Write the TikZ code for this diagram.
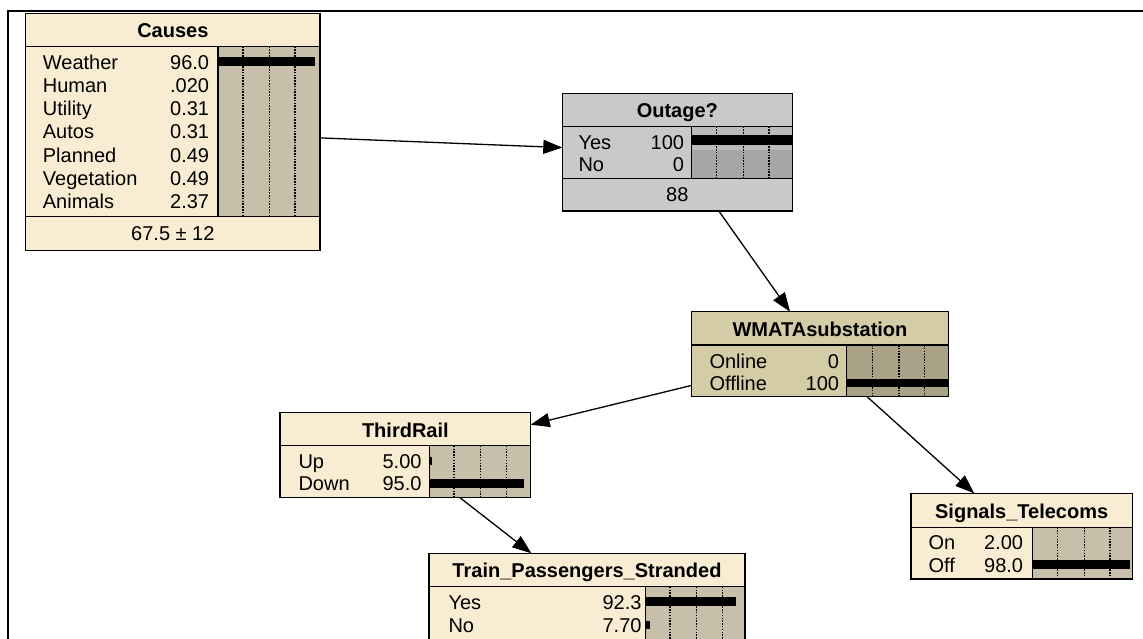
\documentclass[tikz,border=0pt]{standalone}
\usepackage{fontspec}
\setmainfont{Liberation Sans}
\usetikzlibrary{arrows.meta}
\definecolor{cream}{RGB}{248,237,210}
\definecolor{creambar}{RGB}{199,191,169}
\definecolor{khaki}{RGB}{212,204,166}
\definecolor{khakibar}{RGB}{170,162,134}
\definecolor{gry}{RGB}{201,201,201}
\definecolor{grybar}{RGB}{166,166,166}
\definecolor{grybarhi}{RGB}{186,186,186}
\tikzset{
 bn/.style={rectangle, inner sep=0, outer sep=0, draw=none},
 bnborder/.style={line width=1.5pt},
 lbl/.style={anchor=base west, inner sep=0, font=\fontsize{20}{21}\selectfont},
 val/.style={anchor=base east, inner sep=0, font=\fontsize{20}{21}\selectfont},
 ttl/.style={anchor=base, inner sep=0, font=\fontsize{20}{21}\selectfont\bfseries},
 mean/.style={anchor=base, inner sep=0, font=\fontsize{20}{21}\selectfont},
 sepline/.style={line width=1.3pt},
 gridline/.style={line width=1.1pt, dash pattern=on 1.5pt off 1.3pt},
 barfill/.style={fill=black},
 edge/.style={line width=1.3pt, -{Triangle[length=19pt,width=14pt]}},
 frameline/.style={line width=2pt},
}
\begin{document}
\begin{tikzpicture}[x=1pt,y=-1pt]
\useasboundingbox (0,0) rectangle (1143,639);
\fill[white] (0,0) rectangle (1143,639);
\clip (0,0) rectangle (1143,639);

% frame
\coordinate (frbl) at (8,700);
\coordinate (frtl) at (8,11);
\coordinate (frtr) at (1200,11);
\draw[frameline] (frbl) -- (frtl) -- (frtr);

% ---------------- Causes
\node[bn, fill=cream, minimum width=294.3pt, minimum height=237.4pt] (causes) at (172.85,132) {};
\fill[creambar] (218,46.7) rectangle (320,216.7);
\foreach \gx in {243,269.5,295} \draw[gridline] (\gx,46.7) -- (\gx,216.7);
\fill[barfill] (218,57) rectangle (315,66);
\draw[sepline] (25.7,46.7) -- (320,46.7);
\draw[sepline] (25.7,216.7) -- (320,216.7);
\draw[sepline] (218,46.7) -- (218,216.7);
\draw[bnborder] (causes.north west) rectangle (causes.south east);
\node[ttl] (causesT) at (172.85,37.8) {Causes};
\node[lbl] (cl1) at (42.7,69.3) {Weather};    \node[val] (cv1) at (209.3,69.3) {96.0};
\node[lbl] (cl2) at (42.7,92.5) {Human};      \node[val] (cv2) at (209.3,92.5) {.020};
\node[lbl] (cl3) at (42.7,115.7) {Utility};   \node[val] (cv3) at (209.3,115.7) {0.31};
\node[lbl] (cl4) at (42.7,138.9) {Autos};     \node[val] (cv4) at (209.3,138.9) {0.31};
\node[lbl] (cl5) at (42.7,162.1) {Planned};   \node[val] (cv5) at (209.3,162.1) {0.49};
\node[lbl] (cl6) at (42.7,185.3) {Vegetation};\node[val] (cv6) at (209.3,185.3) {0.49};
\node[lbl] (cl7) at (42.7,208.5) {Animals};   \node[val] (cv7) at (209.3,208.5) {2.37};
\node[mean] (cm) at (172.85,240.7) {67.5 ± 12};

% ---------------- Outage?
\node[bn, fill=gry, minimum width=230pt, minimum height=117.7pt] (outage) at (677.3,152.15) {};
\fill[grybarhi] (691.7,126.7) rectangle (792.3,150);
\fill[grybar] (691.7,150) rectangle (792.3,178.3);
\foreach \gx in {716.7,743.3,769} \draw[gridline] (\gx,126.7) -- (\gx,178.3);
\fill[barfill] (691.7,135) rectangle (792.3,145);
\draw[sepline] (562.3,126.7) -- (792.3,126.7);
\draw[sepline] (562.3,178.3) -- (792.3,178.3);
\draw[sepline] (691.7,126.7) -- (691.7,178.3);
\draw[bnborder] (outage.north west) rectangle (outage.south east);
\node[ttl] (outageT) at (677.3,117.8) {Outage?};
\node[lbl] (ol1) at (578.3,149.3) {Yes}; \node[val] (ov1) at (684.3,149.3) {100};
\node[lbl] (ol2) at (578.3,172) {No};    \node[val] (ov2) at (684.3,172) {0};
\node[mean] (om) at (677.3,202) {88};

% ---------------- WMATAsubstation
\node[bn, fill=khaki, minimum width=256.6pt, minimum height=85pt] (wmata) at (820,354.2) {};
\fill[khakibar] (846.7,345) rectangle (948.3,396.7);
\foreach \gx in {872.3,899,924.3} \draw[gridline] (\gx,345) -- (\gx,396.7);
\fill[barfill] (846.7,378.7) rectangle (948.3,387.3);
\draw[sepline] (691.7,345) -- (948.3,345);
\draw[sepline] (846.7,345) -- (846.7,396.7);
\draw[bnborder] (wmata.north west) rectangle (wmata.south east);
\node[ttl] (wmataT) at (820,336) {WMATAsubstation};
\node[lbl] (wl1) at (709.3,368) {Online};    \node[val] (wv1) at (839.3,368) {0};
\node[lbl] (wl2) at (709.3,390.3) {Offline}; \node[val] (wv2) at (839.3,390.3) {100};

% ---------------- ThirdRail
\node[bn, fill=cream, minimum width=250.7pt, minimum height=85pt] (third) at (405.35,455.2) {};
\fill[creambar] (429.3,445.7) rectangle (530.7,497.7);
\foreach \gx in {454,480.7,506.7} \draw[gridline] (\gx,445.7) -- (\gx,497.7);
\fill[barfill] (429.3,479) rectangle (524,487.7);
\fill[barfill] (429.3,457) rectangle (431.8,465);
\draw[sepline] (280,445.7) -- (530.7,445.7);
\draw[sepline] (429.3,445.7) -- (429.3,497.7);
\draw[bnborder] (third.north west) rectangle (third.south east);
\node[ttl] (thirdT) at (405.35,437) {ThirdRail};
\node[lbl] (tl1) at (298.3,468.7) {Up};   \node[val] (tv1) at (421.7,468.7) {5.00};
\node[lbl] (tl2) at (298.3,490.3) {Down}; \node[val] (tv2) at (421.7,490.3) {95.0};

% ---------------- Signals_Telecoms
\node[bn, fill=cream, minimum width=221.3pt, minimum height=85.7pt] (signals) at (1021.65,536.15) {};
\fill[creambar] (1032.3,527.3) rectangle (1132.3,579);
\foreach \gx in {1057.7,1084.3,1110} \draw[gridline] (\gx,527.3) -- (\gx,579);
\fill[barfill] (1032.3,560) rectangle (1130,569);
\draw[sepline] (911,527.3) -- (1132.3,527.3);
\draw[sepline] (1032.3,527.3) -- (1032.3,579);
\draw[bnborder] (signals.north west) rectangle (signals.south east);
\node[ttl] (signalsT) at (1021.65,518) {Signals\_Telecoms};
\node[lbl] (sl1) at (928.3,549.7) {On};  \node[val] (sv1) at (1023.3,549.7) {2.00};
\node[lbl] (sl2) at (928.3,572) {Off};   \node[val] (sv2) at (1023.3,572) {98.0};

% ---------------- Train_Passengers_Stranded
\node[bn, fill=cream, minimum width=316pt, minimum height=86.7pt] (train) at (587,596.65) {};
\fill[creambar] (645.7,586.7) rectangle (745,640);
\foreach \gx in {670,696.7,722.3} \draw[gridline] (\gx,586.7) -- (\gx,640);
\fill[barfill] (645.7,597.3) rectangle (735.7,605.7);
\fill[barfill] (645.7,620.7) rectangle (650,629.3);
\draw[sepline] (429,586.7) -- (745,586.7);
\draw[sepline] (645.7,586.7) -- (645.7,640);
\draw[bnborder] (train.north west) rectangle (train.south east);
\node[ttl] (trainT) at (587,577.5) {Train\_Passengers\_Stranded};
\node[lbl] (rl1) at (448.3,609.3) {Yes}; \node[val] (rv1) at (641.7,609.3) {92.3};
\node[lbl] (rl2) at (448.3,632) {No};    \node[val] (rv2) at (641.7,632) {7.70};

% ---------------- connectors
\draw[edge] (causes) -- (outage);
\draw[edge] (outage) -- (wmata);
\draw[edge] (wmata) -- (third);
\draw[edge] (wmata) -- (signals);
\draw[edge] (third) -- (train);
\end{tikzpicture}
\end{document}
